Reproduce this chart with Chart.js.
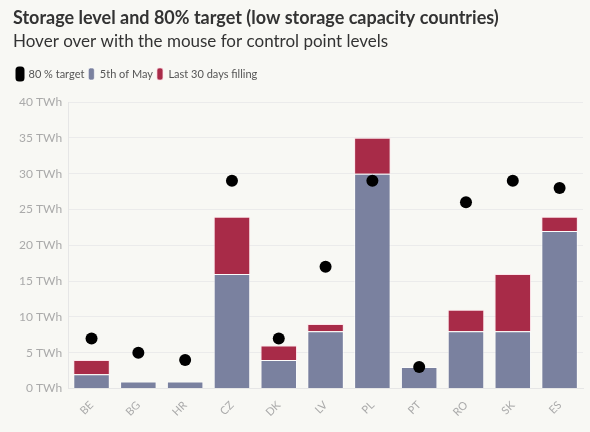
<!DOCTYPE html>
<html>
<head>
<meta charset="utf-8">
<script src="https://cdn.jsdelivr.net/npm/chart.js@4"></script>
<style>
  html, body { margin: 0; padding: 0; background: #f8f8f4; }
</style>
</head>
<body>
<canvas id="storageChart" width="590" height="432"></canvas>
<script>
// Chart data (TWh)
const countries = ['BE', 'BG', 'HR', 'CZ', 'DK', 'LV', 'PL', 'PT', 'RO', 'SK', 'ES'];
const target80 = [7, 5, 4, 29, 7, 17, 29, 3, 26, 29, 28];
const mayFifth = [2, 1, 1, 16, 4, 8, 30, 3, 8, 8, 22];
const last30Days = [2, 0, 0, 8, 2, 1, 5, 0, 3, 8, 2];
const yTicks = [0, 5, 10, 15, 20, 25, 30, 35, 40];

const FONT = '"Source Sans Pro", Lato, sans-serif';

// extra space below the legend
const legendGap = {
    id: 'legendGap',
    beforeInit(chart) {
        const fit = chart.legend.fit;
        chart.legend.fit = function () {
            fit.bind(chart.legend)();
            this.height += 12;
        };
    }
};

new Chart(document.getElementById('storageChart').getContext('2d'), {
    type: 'bar',
    data: {
        labels: countries,
        datasets: [
            {
                type: 'line',
                label: '80 % target',
                data: target80,
                showLine: false,
                pointRadius: 6,
                pointHoverRadius: 7,
                pointBackgroundColor: '#000',
                pointBorderWidth: 0,
                backgroundColor: '#000',
                borderColor: '#000',
                order: 0
            },
            {
                label: '5th of May',
                data: mayFifth,
                backgroundColor: '#7a819f',
                borderColor: 'rgba(255,255,255,0.6)',
                borderWidth: 1,
                stack: 's',
                order: 1
            },
            {
                label: 'Last 30 days filling',
                data: last30Days,
                backgroundColor: '#a82b48',
                borderColor: 'rgba(255,220,230,0.7)',
                borderWidth: 1,
                stack: 's',
                order: 1
            }
        ]
    },
    options: {
        responsive: false,
        animation: false,
        layout: { padding: { left: 13, right: 7, top: 2, bottom: 3 } },
        datasets: {
            bar: { barPercentage: 0.78, categoryPercentage: 1 }
        },
        plugins: {
            title: {
                display: true,
                text: 'Storage level and 80% target (low storage capacity countries)',
                align: 'start',
                color: '#333',
                font: { family: FONT, size: 18, weight: 'bold' },
                padding: { top: 5, bottom: 3 }
            },
            subtitle: {
                display: true,
                text: 'Hover over with the mouse for control point levels',
                align: 'start',
                color: '#333',
                font: { family: FONT, size: 17, weight: 'normal' },
                padding: { top: 0, bottom: 12 }
            },
            legend: {
                align: 'start',
                labels: {
                    color: '#555',
                    font: { family: FONT, size: 11 },
                    boxWidth: 6,
                    boxHeight: 12,
                    padding: 4,
                    useBorderRadius: true,
                    borderRadius: 2
                }
            },
            tooltip: { enabled: true }
        },
        scales: {
            x: {
                stacked: true,
                grid: { display: false, drawTicks: false },
                border: { color: '#e6e6e6' },
                ticks: {
                    color: '#aaa',
                    font: { family: FONT, size: 11 },
                    maxRotation: 45,
                    minRotation: 45,
                    padding: 10
                }
            },
            y: {
                stacked: true,
                min: 0,
                max: 40,
                afterBuildTicks: axis => { axis.ticks = yTicks.map(v => ({ value: v })); },
                grid: { color: '#ebebeb', drawTicks: false },
                border: { color: '#e6e6e6' },
                ticks: {
                    color: '#aaa',
                    font: { family: FONT, size: 12 },
                    padding: 6,
                    callback: v => v + ' TWh'
                }
            }
        }
    },
    plugins: [legendGap]
});
</script>
</body>
</html>
